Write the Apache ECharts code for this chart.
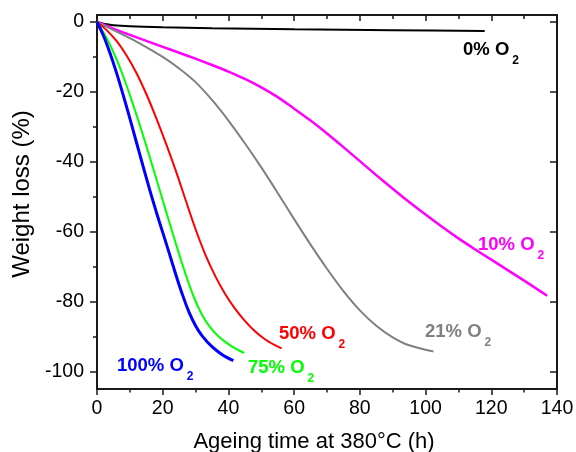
<!DOCTYPE html>
<html>
<head>
<meta charset="utf-8">
<script src="https://cdn.jsdelivr.net/npm/echarts@6/dist/echarts.min.js"></script>
<style>
  html, body { margin: 0; padding: 0; background: #fff; }
  #chart { width: 576px; height: 452px; }
</style>
</head>
<body>
<div id="chart"></div>
<script>
// Weight loss (%) versus ageing time (h) at 380 °C for each O2 concentration
const oxygen0 = [[0,0],[2,-0.5],[5,-0.9],[10,-1.2],[20,-1.5],[35,-1.8],[60,-2.1],[90,-2.35],[118,-2.6]];
const oxygen10 = [[0,0],[5,-1.9],[10,-3.7],[15,-5.4],[20,-7.1],[25,-8.8],[30,-10.5],[35,-12.3],[40,-14.2],[45,-16.3],[50,-18.7],[55,-21.5],[60,-24.8],[65,-28.2],[70,-31.9],[75,-35.8],[80,-39.8],[85,-43.8],[90,-47.7],[95,-51.5],[100,-55.1],[105,-58.6],[110,-61.9],[115,-65],[120,-68],[125,-71],[130,-74],[137,-78.3]];
const oxygen21 = [[0,0],[5,-2.3],[10,-4.6],[15,-7.2],[20,-10],[25,-13.3],[30,-17.2],[35,-22.3],[40,-28.2],[45,-34.7],[50,-41.6],[55,-48.9],[60,-56.4],[65,-63.7],[70,-70.6],[75,-77],[80,-82.5],[85,-86.9],[90,-90.2],[95,-92.5],[102.4,-94.3]];
const oxygen50 = [[0,0],[3,-2.4],[6,-5.5],[9,-9.6],[12,-14.6],[15,-20.6],[18,-27.4],[21,-34.8],[24,-42.6],[27,-51],[30,-59.3],[33,-66.6],[36,-72.7],[39,-77.8],[42,-82],[45,-85.5],[48,-88.4],[51,-90.7],[54,-92.4],[56.2,-93.4]];
const oxygen75 = [[0,0],[2,-3],[4,-6.6],[6,-10.8],[8,-15.6],[10,-20.9],[12,-26.5],[14,-32.4],[16,-38.5],[18,-44.7],[20,-51],[22,-57.2],[24,-63.4],[26,-69.4],[28,-75],[30,-79.9],[32,-83.8],[34,-86.8],[37,-90],[41,-92.8],[44.8,-94.7]];
const oxygen100 = [[0,0],[2,-4],[4,-9],[6,-14.7],[8,-21],[10,-27.6],[12,-34.4],[14,-41.2],[16,-47.9],[18,-54.2],[20,-60.2],[22,-66.2],[24,-72.3],[26,-78],[28,-83],[30,-86.9],[32,-89.8],[35,-92.9],[38,-95.1],[41.5,-96.9]];

const yMajorTicks = [0, -20, -40, -60, -80, -100];
const yMinorTicks = [-10, -30, -50, -70, -90];
const curveNames = ['0% O', '10% O', '21% O', '50% O', '75% O', '100% O'];

const FONT = 'Arial, "Liberation Sans", sans-serif';
const AXIS_COLOR = '#1a1a1a';

const chart = echarts.init(document.getElementById('chart'), null, { renderer: 'canvas' });

function curve(data, color, width) {
  return {
    type: 'line', data: data, smooth: 0.3,
    showSymbol: false, symbol: 'none',
    lineStyle: { color: color, width: width }, xAxisIndex: 0, yAxisIndex: 0,
    animation: false, z: 3
  };
}

// curve tag such as "21% O₂" with a lowered subscript
function tag(text, color, x, y) {
  return {
    type: 'text', left: x, top: y, z: 10,
    style: {
      text: '{m|' + text + '}{s|2}',
      rich: {
        m: { font: 'bold 18.5px ' + FONT, fill: color, verticalAlign: 'top', lineHeight: 22 },
        s: { font: 'bold 12px ' + FONT, fill: color, verticalAlign: 'top', padding: [15, 0, 0, 3], lineHeight: 14 }
      }
    }
  };
}

const option = {
  backgroundColor: '#fff',
  animation: false,
  grid: { left: 97, right: 19, top: 15, bottom: 63, containLabel: false, outerBoundsMode: 'none' },
  xAxis: [
    {
      type: 'value', position: 'bottom', min: 0, max: 140, interval: 20,
      name: 'Ageing time at 380°C (h)', nameLocation: 'middle', nameGap: 42,
      nameTextStyle: { fontFamily: FONT, fontSize: 22, color: '#000', padding: [0, 26, 0, 0] },
      axisLine: { show: true, onZero: false, lineStyle: { color: AXIS_COLOR, width: 2 } },
      axisTick: { show: true, inside: false, length: 6, lineStyle: { color: AXIS_COLOR, width: 1.5 } },
      minorTick: { show: true, splitNumber: 2, length: 3.5, lineStyle: { color: AXIS_COLOR, width: 1.5 } },
      axisLabel: { fontFamily: FONT, fontSize: 19.5, color: '#000', margin: 10 },
      splitLine: { show: false }
    },
    {
      type: 'value', position: 'top', min: 0, max: 140, interval: 20,
      axisLine: { show: true, onZero: false, lineStyle: { color: AXIS_COLOR, width: 2 } },
      axisTick: { show: true, inside: true, length: 6, lineStyle: { color: AXIS_COLOR, width: 1.5 } },
      minorTick: { show: true, splitNumber: 2, length: 4, lineStyle: { color: AXIS_COLOR, width: 1.5 } },
      axisLabel: { show: false },
      splitLine: { show: false }
    }
  ],
  yAxis: [
    {
      type: 'value', position: 'left', min: -105, max: 2,
      name: 'Weight loss (%)', nameLocation: 'middle', nameGap: 62,
      nameTextStyle: { fontFamily: FONT, fontSize: 24, color: '#000', padding: [0, 0, 0, 16] },
      axisLine: { show: true, onZero: false, lineStyle: { color: AXIS_COLOR, width: 2 } },
      axisTick: { show: true, inside: false, length: 7, customValues: yMajorTicks, lineStyle: { color: AXIS_COLOR, width: 1.5 } },
      axisLabel: { fontFamily: FONT, fontSize: 19.5, color: '#000', margin: 13, customValues: yMajorTicks },
      splitLine: { show: false }
    },
    {
      type: 'value', position: 'left', min: -105, max: 2,
      axisLine: { show: false },
      axisTick: { show: true, inside: false, length: 4, customValues: yMinorTicks, lineStyle: { color: AXIS_COLOR, width: 1.5 } },
      axisLabel: { show: false, customValues: yMinorTicks },
      splitLine: { show: false }
    },
    {
      type: 'value', position: 'right', min: -105, max: 2,
      axisLine: { show: true, onZero: false, lineStyle: { color: AXIS_COLOR, width: 2 } },
      axisTick: { show: true, inside: true, length: 7, customValues: yMajorTicks, lineStyle: { color: AXIS_COLOR, width: 1.5 } },
      axisLabel: { show: false, customValues: yMajorTicks },
      splitLine: { show: false }
    },
    {
      type: 'value', position: 'right', min: -105, max: 2,
      axisLine: { show: false },
      axisTick: { show: true, inside: true, length: 4, customValues: yMinorTicks, lineStyle: { color: AXIS_COLOR, width: 1.5 } },
      axisLabel: { show: false, customValues: yMinorTicks },
      splitLine: { show: false }
    }
  ],
  series: [
    curve(oxygen0, '#000000', 2),
    curve(oxygen10, '#ff00ff', 2.5),
    curve(oxygen21, '#808080', 2),
    curve(oxygen50, '#ff0000', 2),
    curve(oxygen75, '#00ff00', 2),
    curve(oxygen100, '#0000ff', 3)
  ],
  graphic: [
    tag(curveNames[0], '#000000', 463, 40),
    tag(curveNames[1], '#ff00ff', 478, 235),
    tag(curveNames[2], '#808080', 425, 322),
    tag(curveNames[3], '#ff0000', 279, 324),
    tag(curveNames[4], '#00ff00', 248, 358),
    tag(curveNames[5], '#0000ff', 117, 356)
  ]
};

chart.setOption(option);
</script>
</body>
</html>
